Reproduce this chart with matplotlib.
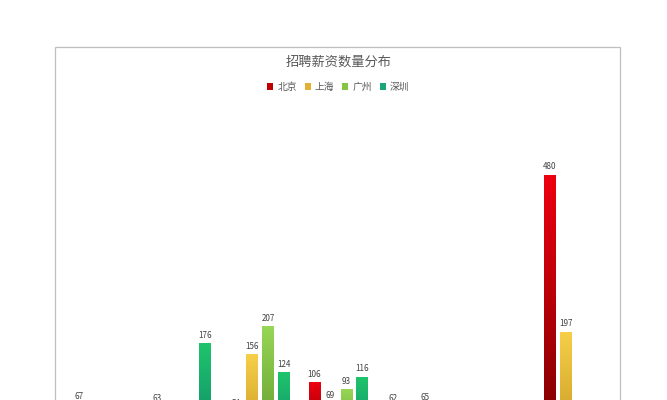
import numpy as np
import matplotlib
matplotlib.use("Agg")
import matplotlib.pyplot as plt
from matplotlib.colors import LinearSegmentedColormap
from matplotlib.patches import Rectangle, Patch

plt.rcParams['font.family'] = ['Noto Sans CJK SC', 'DejaVu Sans']

# salary bands (x labels sit below the visible crop, so they are a guess)
categories = ['2k以下', '2k-4k', '4k-6k', '6k-8k', '8k-10k', '10k-15k', '15k以上']
cities = ['北京', '上海', '广州', '深圳']
beijing = [67, 63, 54, 106, 62, 40, 480]
shanghai = [38, 42, 156, 69, 35, 28, 197]
guangzhou = [30, 36, 207, 93, 65, 22, 45]
shenzhen = [25, 176, 124, 116, 40, 30, 48]

series = [beijing, shanghai, guangzhou, shenzhen]
# (bottom colour, top colour) for the Excel style gradient
grads = [('#7a0000', '#ee0010'),
         ('#c89a20', '#f7cf4a'),
         ('#5f9a2c', '#98d656'),
         ('#0f8a6a', '#1fc46c')]
legend_cols = ['#c00000', '#e2b035', '#86c444', '#1aa67a']

fig = plt.figure(figsize=(6.67, 4), dpi=100)

# chart frame (continues past the bottom of the crop)
fig.patches.append(Rectangle((55 / 667, -0.2), 565 / 667, 1.0825, transform=fig.transFigure,
                             fill=False, edgecolor='#bfbfbf', linewidth=0.9))

ax = fig.add_axes([0.0955, -0.1025, 0.8238, 0.8325])
x = np.arange(len(categories))
slot = 0.203
width = 0.15
grad = np.linspace(0, 1, 256).reshape(-1, 1)

for i, vals in enumerate(series):
    bars = ax.bar(x + (i - 1.5) * slot, vals, width, color=legend_cols[i], zorder=2)
    cmap = LinearSegmentedColormap.from_list('g%d' % i, grads[i])
    for b in bars:
        x0, y0 = b.get_x(), b.get_y()
        im = ax.imshow(grad, extent=[x0, x0 + b.get_width(), y0, y0 + b.get_height()],
                       origin='lower', aspect='auto', cmap=cmap, zorder=3)
        im.set_clip_path(b)
    ax.bar_label(bars, padding=2.3, fontsize=5.8, color='#404040', zorder=4)

ax.set_xlim(-0.5, len(categories) - 0.5)
ax.set_ylim(0, 600)
ax.set_xticks(x)
ax.set_xticklabels(categories, fontsize=6, color='#595959')
ax.set_yticks([])
for s in ['left', 'right', 'top']:
    ax.spines[s].set_visible(False)
ax.spines['bottom'].set_color('#d9d9d9')
ax.tick_params(length=0)

fig.text(0.507, 0.844, '招聘薪资数量分布', ha='center', va='center', fontsize=9.5, color='#595959')

handles = [Patch(facecolor=c, edgecolor='none') for c in legend_cols]
fig.legend(handles, cities, loc='center', bbox_to_anchor=(0.507, 0.783), ncol=4, frameon=False,
           fontsize=7, handlelength=0.65, handleheight=0.65, handletextpad=0.4,
           columnspacing=0.8, labelcolor='#595959')

fig.savefig('out.png', dpi=100)
